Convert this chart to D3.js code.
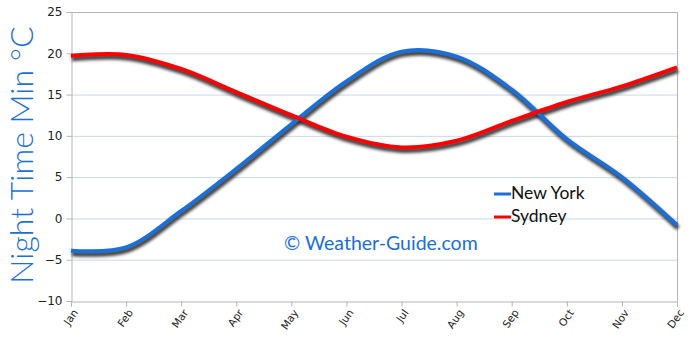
<!DOCTYPE html>
<html>
<head>
<meta charset="utf-8">
<script src="https://cdn.jsdelivr.net/npm/d3@7"></script>
<style>
  body { margin: 0; background: #fff; }
  svg { display: block; }
</style>
</head>
<body>
<div class="chart"></div>
<script>
var months = ["Jan", "Feb", "Mar", "Apr", "May", "Jun", "Jul", "Aug", "Sep", "Oct", "Nov", "Dec"];
var newYork = [-3.9, -3.5, 0.9, 6.0, 11.4, 16.6, 20.2, 19.6, 15.6, 9.6, 5.0, -0.8];
var sydney = [19.7, 19.8, 18.1, 15.3, 12.5, 9.9, 8.6, 9.4, 11.8, 14.1, 16.0, 18.3];
var yTicks = [25, 20, 15, 10, 5, 0, -5, -10];

var width = 690, height = 340;
var margin = {top: 12, right: 13, bottom: 39, left: 71};

var svg = d3.select(".chart").append("svg")
  .attr("width", width)
  .attr("height", height);

var defs = svg.append("defs");
var f = defs.append("filter").attr("id", "shadow")
  .attr("x", "-5%").attr("y", "-20%").attr("width", "110%").attr("height", "140%");
f.append("feGaussianBlur").attr("stdDeviation", 1.4);

var x = d3.scalePoint()
  .domain(months)
  .range([margin.left, width - margin.right]);

var y = d3.scaleLinear()
  .domain([-10, 25])
  .range([height - margin.bottom, margin.top]);

// grid lines
svg.append("g")
  .selectAll("line")
  .data(yTicks.filter(function(d) { return d > -10 && d < 25; }))
  .enter().append("line")
  .attr("x1", margin.left)
  .attr("x2", width - margin.right)
  .attr("y1", function(d) { return y(d) + 0.5; })
  .attr("y2", function(d) { return y(d) + 0.5; })
  .attr("stroke", "#c8d8ee")
  .attr("stroke-width", 1);

// frame top and right
svg.append("path")
  .attr("d", "M" + margin.left + "," + (y(25) + 0.5) + "H" + (width - margin.right + 0.5) + "V" + (y(-10)))
  .attr("fill", "none")
  .attr("stroke", "#b4b4b4");

// y axis
var yAxis = svg.append("g")
  .attr("transform", "translate(" + (margin.left + 0.5) + ",0)")
  .call(d3.axisLeft(y).tickValues(yTicks).tickSize(5).tickPadding(4));
yAxis.select(".domain").attr("stroke", "#b4b4b4");
yAxis.selectAll(".tick line").attr("stroke", "#b4b4b4");
yAxis.selectAll(".tick text")
  .attr("fill", "#222")
  .style("font-family", "'DejaVu Sans', sans-serif")
  .style("font-size", "12px");

// x axis
var xAxis = svg.append("g")
  .attr("transform", "translate(0," + (y(-10) + 0.5) + ")")
  .call(d3.axisBottom(x).tickSize(5).tickPadding(3));
xAxis.select(".domain").attr("stroke", "#b4b4b4");
xAxis.selectAll(".tick line").attr("stroke", "#b4b4b4");
xAxis.selectAll(".tick text")
  .attr("fill", "#222")
  .style("font-family", "'DejaVu Sans', sans-serif")
  .style("font-size", "10.5px")
  .attr("text-anchor", "end")
  .attr("x", 0)
  .attr("y", 0)
  .attr("dy", "0.35em")
  .attr("transform", "translate(4,9) rotate(-55)");

var line = d3.line()
  .curve(d3.curveCatmullRom.alpha(0.5))
  .x(function(d, i) { return x(months[i]); })
  .y(function(d) { return y(d); });

var series = [
  {name: "New York", values: newYork, color: "#1a6fd8"},
  {name: "Sydney", values: sydney, color: "#ff0000"}
];

series.forEach(function(s) {
  svg.append("path")
    .datum(s.values)
    .attr("d", line)
    .attr("fill", "none")
    .attr("stroke", "#2a2a2a")
    .attr("stroke-width", 5)
    .attr("opacity", 0.9)
    .attr("filter", "url(#shadow)")
    .attr("transform", "translate(1,3)");
});
series.forEach(function(s) {
  svg.append("path")
    .datum(s.values)
    .attr("d", line)
    .attr("fill", "none")
    .attr("stroke", s.color)
    .attr("stroke-width", 4)
    .attr("stroke-linejoin", "round");
});

// legend
var legend = svg.append("g").attr("transform", "translate(494,194)");
series.forEach(function(s, i) {
  legend.append("line")
    .attr("x1", 0).attr("x2", 17)
    .attr("y1", i * 23).attr("y2", i * 23)
    .attr("stroke", s.color)
    .attr("stroke-width", 3);
  legend.append("text")
    .attr("x", 17)
    .attr("y", i * 23 + 5)
    .attr("fill", "#111")
    .style("font-family", "'Comic Sans MS', 'Lato', sans-serif")
    .style("font-size", "17.5px")
    .text(s.name);
});

// watermark
svg.append("text")
  .attr("x", 284)
  .attr("y", 250)
  .attr("fill", "#1a6fd8")
  .style("font-family", "'Comic Sans MS', 'Lato', sans-serif")
  .style("font-size", "19.5px")
  .text("\u00a9 Weather-Guide.com");

// y title
svg.append("text")
  .attr("transform", "translate(33,155) rotate(-90)")
  .attr("text-anchor", "middle")
  .attr("fill", "#1a6fd8")
  .style("font-family", "'Comic Sans MS', 'Lato', sans-serif")
  .style("font-size", "32px")
  .style("font-weight", "300")
  .text("Night Time Min \u00b0C");
</script>
</body>
</html>
